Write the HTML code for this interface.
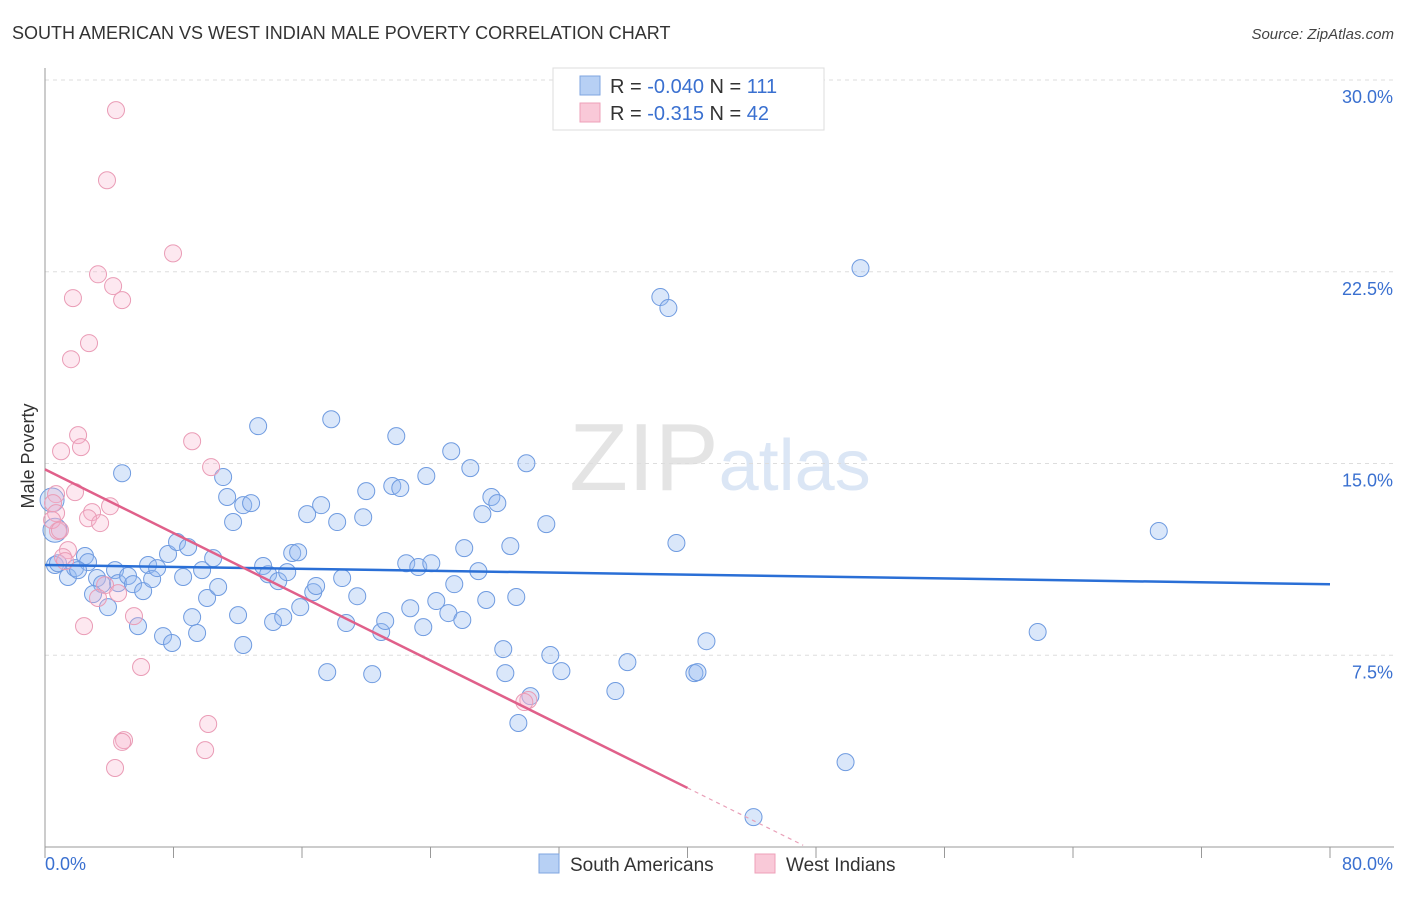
<!DOCTYPE html>
<html><head><meta charset="utf-8"><style>
body{margin:0;background:#fff;font-family:"Liberation Sans",sans-serif;}
svg text{font-family:"Liberation Sans",sans-serif;}
</style></head><body>
<svg id="chart" width="1406" height="892" xmlns="http://www.w3.org/2000/svg">
<text x="12" y="39" font-size="18" fill="#333">SOUTH AMERICAN VS WEST INDIAN MALE POVERTY CORRELATION CHART</text>
<text x="1394" y="39" font-size="15" fill="#444" text-anchor="end" font-style="italic">Source: ZipAtlas.com</text>
<text x="720" y="490" font-size="96" fill="#e4e4e4" text-anchor="middle" font-family="Liberation Serif">ZIP<tspan fill="#dbe6f5" font-family="Liberation Sans" font-size="72">atlas</tspan></text>
<g id="grid"></g><g id="axes"></g><g id="pts"></g><g id="trend"></g>
<text transform="translate(34,456) rotate(-90)" font-size="18" fill="#333" text-anchor="middle">Male Poverty</text>
<g>
<rect x="553" y="68" width="271" height="62" fill="#fff" stroke="#ddd"/>
<rect x="580" y="76" width="20" height="19" fill="#b7d0f4" stroke="#7fa6e0"/>
<rect x="580" y="103" width="20" height="19" fill="#f9c9d8" stroke="#eea0b9"/>
<text x="610" y="93" font-size="20" fill="#333">R = <tspan fill="#3a70d0">-0.040</tspan>   N = <tspan fill="#3a70d0">111</tspan></text>
<text x="610" y="120" font-size="20" fill="#333">R =  <tspan fill="#3a70d0"> -0.315</tspan>   N = <tspan fill="#3a70d0">42</tspan></text>
</g>
<g>
<rect x="539" y="854" width="20" height="19" fill="#b7d0f4" stroke="#7fa6e0"/>
<text x="570" y="871" font-size="19" fill="#333">South Americans</text>
<rect x="755" y="854" width="20" height="19" fill="#f9c9d8" stroke="#eea0b9"/>
<text x="786" y="871" font-size="19" fill="#333">West Indians</text>
</g>
</svg>
<script>
const blueX=[0.62,0.81,1.43,1.87,2.49,2.68,2.06,3.24,3.55,2.99,3.92,4.36,4.55,4.80,5.17,5.48,5.79,6.11,6.42,6.67,6.98,7.35,7.66,7.91,8.22,8.60,8.91,9.16,9.47,9.78,10.09,10.47,10.78,11.09,11.34,11.71,12.02,12.34,12.34,12.83,13.27,13.58,13.89,14.20,14.52,14.83,15.08,15.39,15.76,15.89,16.32,16.70,16.88,17.19,17.57,17.82,18.19,18.50,18.75,19.44,19.81,20.00,20.37,20.93,21.18,21.62,21.87,22.12,22.49,22.74,23.24,23.55,23.74,24.05,24.36,25.11,25.29,25.48,25.98,26.10,26.48,26.98,27.23,27.47,27.79,28.16,28.53,28.66,28.97,29.34,29.97,30.22,29.47,31.21,31.46,32.15,35.51,36.26,38.31,38.81,39.31,40.43,40.62,41.18,44.11,49.84,50.77,61.80,69.34,0.44,0.62];
const blueY=[11.03,11.10,10.56,10.91,11.38,11.14,10.83,10.52,10.28,9.89,9.38,10.83,10.32,14.62,10.60,10.28,8.64,10.01,11.03,10.48,10.91,8.25,11.46,7.98,11.93,10.56,11.73,8.99,8.37,10.83,9.74,11.30,10.17,14.47,13.69,12.71,9.07,7.90,13.37,13.45,16.46,10.99,10.67,8.80,10.40,8.99,10.75,11.50,11.53,9.38,13.02,9.97,10.21,13.37,6.84,16.73,12.71,10.52,8.76,9.81,12.90,13.92,6.76,8.41,8.84,14.12,16.07,14.04,11.10,9.34,10.95,8.60,14.51,11.10,9.62,9.15,15.48,10.28,8.88,11.69,14.82,10.79,13.02,9.66,13.69,13.45,7.74,6.80,11.77,9.78,15.01,5.90,4.85,12.63,7.51,6.88,6.10,7.23,21.51,21.08,11.89,6.80,6.84,8.05,1.17,3.32,22.64,8.41,12.36,13.57,12.39];
const pinkX=[4.42,3.86,7.97,3.30,4.24,1.74,4.80,2.74,1.62,2.06,9.16,2.24,1.00,10.34,1.87,0.69,0.50,4.05,2.93,0.69,2.68,3.43,0.81,1.43,1.12,1.25,3.74,3.30,4.55,5.54,2.43,5.98,10.16,4.92,4.80,9.97,4.36,30.09,29.84,0.44,0.93];
const pinkY=[28.82,26.08,23.22,22.40,21.94,21.47,21.39,19.71,19.08,16.11,15.87,15.64,15.48,14.86,13.88,13.80,13.45,13.33,13.10,13.06,12.86,12.67,12.36,11.61,11.34,11.18,10.24,9.74,9.93,9.03,8.64,7.04,4.81,4.18,4.11,3.79,3.09,5.75,5.67,12.79,12.39];
const xTicks=[0,8,16,24,32,40,48,56,64,72,80];
const yTicks=[7.5,15,22.5,30];
const blueTrend=[11.03,-0.0094];
const pinkTrend=[14.77,-0.3115];
const NS='http://www.w3.org/2000/svg';
const X0=45,X1=1330,Y0=847,YT=80;
const sx=v=>X0+(X1-X0)*v/80;
const sy=v=>Y0-(Y0-YT)*v/30;
function mk(tag,attrs,parent){const e=document.createElementNS(NS,tag);for(const k in attrs)e.setAttribute(k,attrs[k]);document.getElementById(parent).appendChild(e);return e;}
yTicks.forEach(t=>{
 const l=mk('line',{x1:X0,x2:1394,y1:sy(t),y2:sy(t),stroke:'#ddd','stroke-dasharray':'4,4'},'grid');
 
 
 const tx=mk('text',{x:1393,y:sy(t)+23,'font-size':18,fill:'#3a70d0','text-anchor':'end'},'grid');
 tx.textContent=t.toFixed(1)+'%';
 
 
});
const ax=mk('line',{x1:X0,x2:X0,y1:68,y2:Y0,stroke:'#999'},'axes');


const bx=mk('line',{x1:X0,x2:1394,y1:Y0,y2:Y0,stroke:'#999'},'axes');


xTicks.forEach(t=>{
 const l=mk('line',{x1:sx(t),x2:sx(t),y1:Y0,y2:Y0+11,stroke:'#999'},'axes');
 
 
});
[[0,'start',45],[80,'end',1393]].forEach(([v,a,x])=>{
 const tx=mk('text',{x:x,y:870,'font-size':18,fill:'#3a70d0','text-anchor':a},'axes');
 tx.textContent=v.toFixed(1)+'%';
 
 
});
blueX.forEach((v,i)=>{
 const c=mk('circle',{cx:sx(v),cy:sy(blueY[i]),r:(i>=blueX.length-2)?12:8.5,fill:'rgba(150,185,240,0.35)',stroke:'#6f9be0','stroke-width':1},'pts');
 
 
});
pinkX.forEach((v,i)=>{
 const c=mk('circle',{cx:sx(v),cy:sy(pinkY[i]),r:8.5,fill:'rgba(248,180,205,0.3)',stroke:'#ea9cb6','stroke-width':1},'pts');
 
 
});
const bt=mk('line',{x1:sx(0),y1:sy(blueTrend[0]),x2:sx(80),y2:sy(blueTrend[0]+blueTrend[1]*80),stroke:'#2a6fd6','stroke-width':2.5},'trend');


const pe=40,pd=47.2;
const pt=mk('line',{x1:sx(0),y1:sy(pinkTrend[0]),x2:sx(pe),y2:sy(pinkTrend[0]+pinkTrend[1]*pe),stroke:'#e0608a','stroke-width':2.5},'trend');


const pdl=mk('line',{x1:sx(pe),y1:sy(pinkTrend[0]+pinkTrend[1]*pe),x2:sx(pd),y2:sy(pinkTrend[0]+pinkTrend[1]*pd),stroke:'#e9a0b8','stroke-width':1.2,'stroke-dasharray':'4,4'},'trend');


</script>
</body></html>
